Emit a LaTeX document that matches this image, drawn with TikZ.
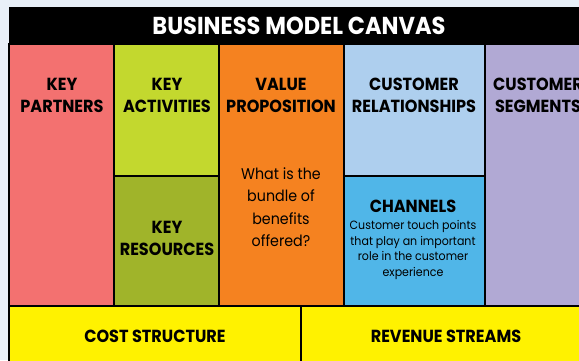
\documentclass[tikz,border=0pt]{standalone}
\usepackage{fontspec}
\setmainfont{Poppins}[FakeStretch=0.92]
\usepackage{xcolor}
\definecolor{bgblue}{HTML}{E9F0F8}
\definecolor{kpred}{HTML}{F37170}
\definecolor{kalime}{HTML}{C3D82E}
\definecolor{krolive}{HTML}{A0B42A}
\definecolor{vporange}{HTML}{F58220}
\definecolor{crblue}{HTML}{AECFEE}
\definecolor{chblue}{HTML}{50B6E8}
\definecolor{cslav}{HTML}{B1A9D4}
\definecolor{bmyellow}{HTML}{FFF200}
\tikzset{cell/.style={draw=black,line width=1.4pt},
    head/.style={align=center,inner sep=0pt,font=\fontsize{17.5}{22}\selectfont\bfseries},
    body/.style={align=center,inner sep=0pt,font=\fontsize{15.5}{22.5}\selectfont},
    small/.style={align=center,inner sep=0pt,font=\fontsize{12}{15.5}\selectfont}}

\begin{document}
\begin{tikzpicture}[x=1pt,y=-1pt]
		\useasboundingbox (0,0) rectangle (579,360);
		\clip (0,0) rectangle (579,360);
		\fill[bgblue] (0,0) rectangle (579,360);
		% title bar
		\fill[black] (9,7) rectangle (593,44);
		\node[inner sep=0pt,text=white,font=\fontsize{24.5}{28}\selectfont\bfseries] (title) at (299,26) {BUSINESS MODEL CANVAS};
		% the nine blocks
		\draw[cell,fill=kpred] (9,44) rectangle (114,306);
		\draw[cell,fill=kalime] (114,44) rectangle (219,176);
		\draw[cell,fill=krolive] (114,176) rectangle (219,306);
		\draw[cell,fill=vporange] (219,44) rectangle (344,306);
		\draw[cell,fill=crblue] (344,44) rectangle (485,176);
		\draw[cell,fill=chblue] (344,176) rectangle (485,306);
		\draw[cell,fill=cslav] (485,44) rectangle (593,306);
		\draw[cell,fill=bmyellow] (9,306) rectangle (301,380);
		\draw[cell,fill=bmyellow] (301,306) rectangle (593,380);
		% labels
		\node[head] (kp) at (62,95) {KEY\\PARTNERS};
		\node[head] (ka) at (167,95) {KEY\\ACTIVITIES};
		\node[head] (kr) at (167,238) {KEY\\RESOURCES};
		\node[head] (vp) at (281,95) {VALUE\\PROPOSITION};
		\node[body] (vptext) at (281,207) {What is the\\bundle of\\benefits\\offered?};
		\node[head] (cr) at (414,95) {CUSTOMER\\RELATIONSHIPS};
		\node[head] (ch) at (413,206.5) {CHANNELS};
		\node[small] (chtext) at (413,250) {Customer touch points\\that play an important\\role in the customer\\experience};
		\node[head] (cs) at (538,95) {CUSTOMER\\SEGMENTS};
		\node[head] (cost) at (155,336) {COST STRUCTURE};
		\node[head] (rev) at (446,336) {REVENUE STREAMS};
	\end{tikzpicture}
\end{document}
